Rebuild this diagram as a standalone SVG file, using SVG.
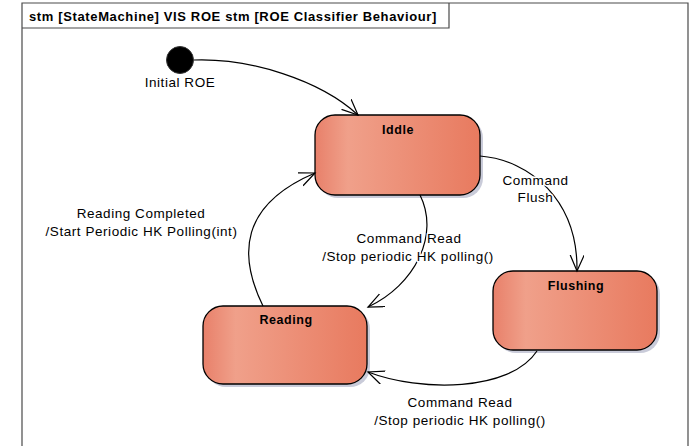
<svg xmlns="http://www.w3.org/2000/svg" width="692" height="446" viewBox="0 0 692 446">
<style>
.frame{fill:none;stroke:#4a4a4a;stroke-width:1.2}
.title{font-family:"Liberation Sans",Arial,sans-serif;font-size:13px;font-weight:bold;letter-spacing:0.63px;fill:#000}
.state{fill:url(#stateGrad);stroke:#000;stroke-width:1.3}
.shadow{fill:#c9cbd9}
.sname{font-family:"Liberation Sans",Arial,sans-serif;font-size:12.5px;font-weight:bold;letter-spacing:0.55px;fill:#000;text-anchor:middle}
.edge{fill:none;stroke:#000;stroke-width:1.2;marker-end:url(#arrow)}
.lbl{font-family:"Liberation Sans",Arial,sans-serif;font-size:13.5px;letter-spacing:0.55px;fill:#000;text-anchor:middle;stroke:#fff;stroke-width:3px;paint-order:stroke;stroke-linejoin:round}
</style>
<defs>
<linearGradient id="stateGrad" x1="0" y1="0" x2="1" y2="0">
<stop offset="0" stop-color="#e8806a"/>
<stop offset="0.2" stop-color="#f0a08a"/>
<stop offset="1" stop-color="#e87a5f"/>
</linearGradient>
<marker id="arrow" markerUnits="userSpaceOnUse" markerWidth="20" markerHeight="16" refX="16" refY="7" orient="auto" viewBox="0 0 20 16">
<path d="M0,0 L16,7 L0,14" fill="none" stroke="#000" stroke-width="1.2"/>
</marker>
</defs>
<rect width="692" height="446" fill="#fff"/>
<g id="frame">
<path class="frame" d="M22,450 V3 H688 V450"/>
<path class="frame" d="M22,28 H449 V3"/>
<text class="title" x="29" y="20.5">stm [StateMachine] VIS ROE stm [ROE Classifier Behaviour]</text>
</g>
<g id="initial">
<circle cx="180" cy="60" r="13.5" fill="#000" stroke="#333" stroke-width="1"/>
<text class="lbl" x="180" y="86.5" style="stroke:none">Initial ROE</text>
</g>
<g id="iddle">
<rect class="shadow" x="318" y="118" width="165" height="80" rx="20"/>
<rect class="state" x="315" y="115" width="165" height="80" rx="20"/>
<text class="sname" x="398" y="134">Iddle</text>
</g>
<g id="flushing">
<rect class="shadow" x="496" y="274" width="164" height="79" rx="20"/>
<rect class="state" x="493" y="271" width="164" height="79" rx="20"/>
<text class="sname" x="576" y="289.5">Flushing</text>
</g>
<g id="reading">
<rect class="shadow" x="206" y="309" width="164" height="78" rx="20"/>
<rect class="state" x="203" y="306" width="164" height="78" rx="20"/>
<text class="sname" x="286" y="324">Reading</text>
</g>
<g id="connectors">
<path class="edge" d="M194,60 C250,58 320,80 358,115"/>
<path class="edge" d="M480,156 C530,160 578,200 577,271"/>
<path class="edge" d="M420,195 C440,235 415,285 368,307"/>
<path class="edge" d="M537,351 C510,392 420,392 368,372"/>
<path class="edge" d="M263,306 C238,255 240,205 315,173"/>
<text class="lbl" x="535.5" y="185">Command</text>
<text class="lbl" x="535.5" y="202">Flush</text>
<text class="lbl" x="409" y="243">Command Read</text>
<text class="lbl" x="408" y="260.5">/Stop periodic HK polling()</text>
<text class="lbl" x="141" y="218">Reading Completed</text>
<text class="lbl" x="141.5" y="236">/Start Periodic HK Polling(int)</text>
<text class="lbl" x="460" y="406.5">Command Read</text>
<text class="lbl" x="460" y="424.5">/Stop periodic HK polling()</text>
</g>
</svg>
